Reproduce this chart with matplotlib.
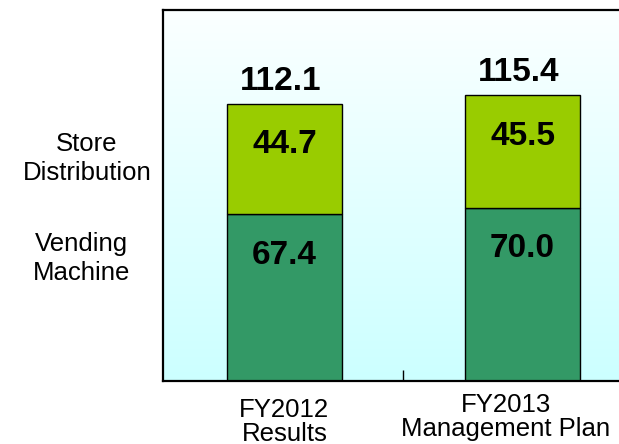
import numpy as np
import matplotlib
matplotlib.use('Agg')
import matplotlib.pyplot as plt
from matplotlib.colors import LinearSegmentedColormap

plt.rcParams['font.family'] = ['Liberation Sans', 'DejaVu Sans']

categories = ['FY2012\nResults', 'FY2013\nManagement Plan']
vending = [67.4, 70.0]
store = [44.7, 45.5]
totals = [112.1, 115.4]
series_names = ['Vending\nMachine', 'Store\nDistribution']

fig = plt.figure(figsize=(6.19, 4.44), dpi=100)
ax = fig.add_axes([0.2633, 0.1419, 0.777, 0.8356])

# gradient background, white at the top to light cyan at the bottom
cmap = LinearSegmentedColormap.from_list('bg', ['#ccffff', '#fbffff'])
grad = np.linspace(0, 1, 256).reshape(-1, 1)
ax.imshow(grad, cmap=cmap, aspect='auto', extent=[-0.51, 1.51, 0, 150],
          origin='lower', zorder=0)

x = np.arange(len(categories))
w = 0.48
ax.bar(x, vending, w, color='#339966', edgecolor='black', linewidth=1, zorder=2)
ax.bar(x, store, w, bottom=vending, color='#99cc00', edgecolor='black', linewidth=1, zorder=2)

ax.set_xlim(-0.51, 1.51)
ax.set_ylim(0, 150)

for i in range(len(x)):
    ax.text(x[i] - 0.015, totals[i] + 5.7, f'{totals[i]:.1f}', ha='center', va='baseline',
            fontsize=24, fontweight='bold', zorder=3)
    ax.text(x[i], vending[i] + store[i] - 20, f'{store[i]:.1f}', ha='center', va='baseline',
            fontsize=24, fontweight='bold', zorder=3)
    ax.text(x[i], vending[i] - 20, f'{vending[i]:.1f}', ha='center', va='baseline',
            fontsize=24, fontweight='bold', zorder=3)

# series names on the left
ax.text(-0.829, 90, series_names[1], ha='center', va='center', fontsize=18.5,
        linespacing=1.3, clip_on=False)
ax.text(-0.851, 49.5, series_names[0], ha='center', va='center', fontsize=18.5,
        linespacing=1.3, clip_on=False)

# category labels under the axis
label_x = [0, 0.93]
label_y = [-7.0, -5.0]
for lx, ly, lab in zip(label_x, label_y, categories):
    ax.text(lx, ly, lab, ha='center', va='top', fontsize=18.5,
            linespacing=1.0, clip_on=False)

ax.set_xticks([0.5])
ax.set_xticklabels([''])
ax.tick_params(axis='x', direction='in', length=8, width=1)
ax.set_yticks([])
for s in ['left', 'top', 'bottom']:
    ax.spines[s].set_linewidth(1.6)
ax.spines['right'].set_visible(False)

fig.savefig('out.png', dpi=100)
